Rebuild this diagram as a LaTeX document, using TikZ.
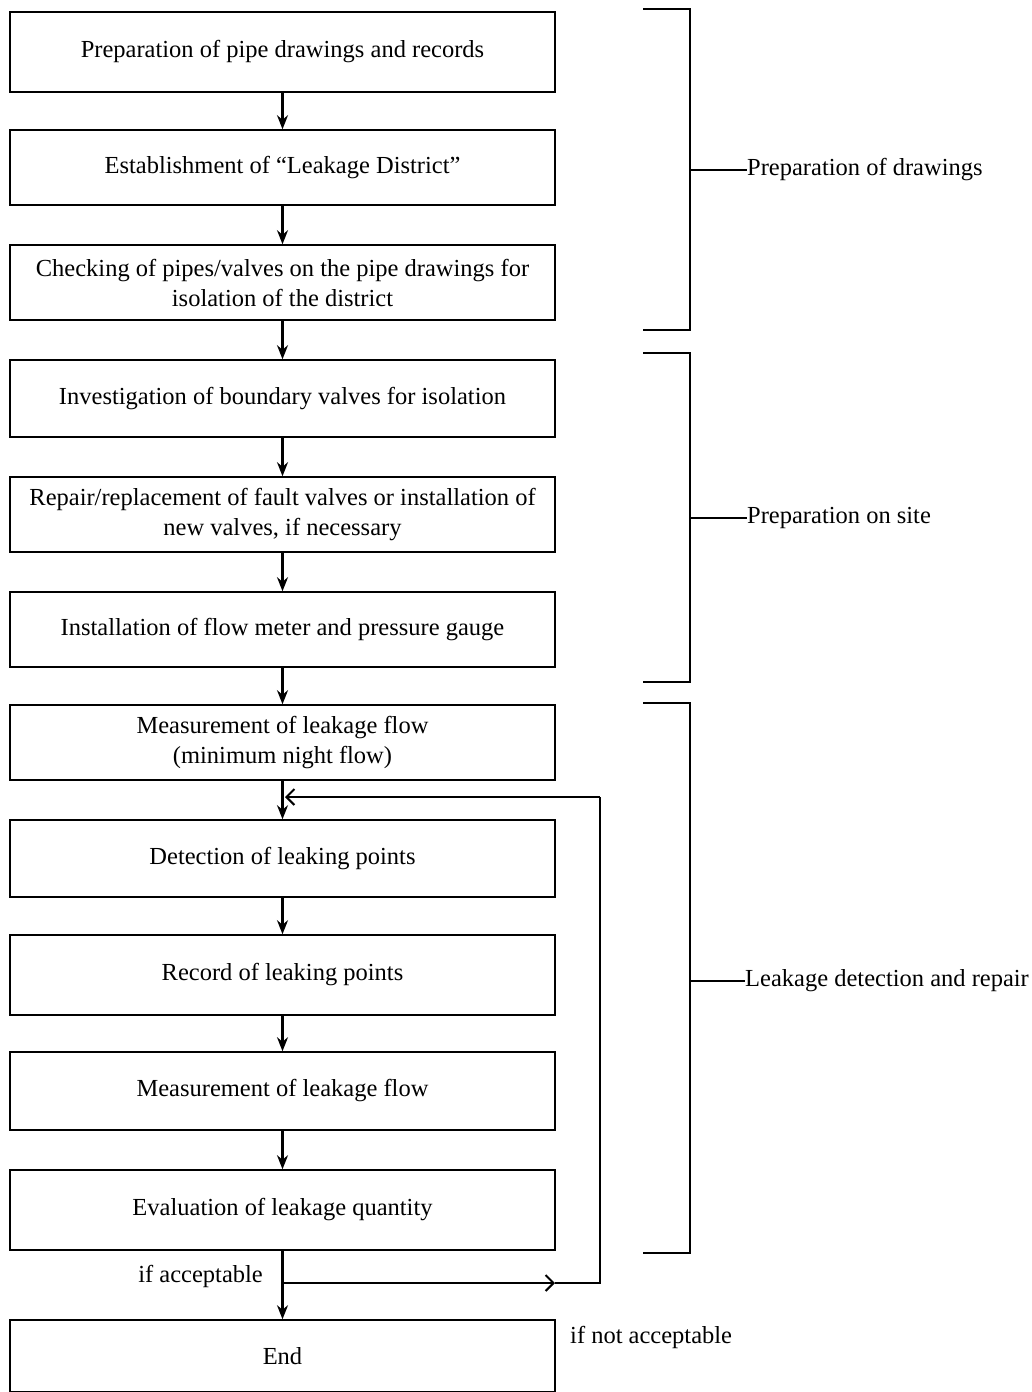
\documentclass[tikz,border=0pt]{standalone}
\usepackage{fontspec}
\setmainfont{Liberation Serif}
\usetikzlibrary{arrows.meta}
\begin{document}
\begin{tikzpicture}[x=1pt,y=-1pt,
  stepbox/.style={draw,line width=1.6pt,minimum width=545pt,align=center,font=\fontsize{24.5}{30}\selectfont,inner sep=0pt},
  flow/.style={-{Stealth[length=14pt,width=11pt]},line width=2.2pt},
  loopline/.style={line width=1.6pt},
  looparrow/.style={-{Straight Barb[length=8pt,width=16pt,line width=2pt]},line width=1.6pt},
  brack/.style={line width=1.8pt},
  tick/.style={line width=1.4pt},
  lab/.style={font=\fontsize{24.5}{30}\selectfont,anchor=west,inner sep=0pt}]
\useasboundingbox (0,0) rectangle (1032,1392);
\node[stepbox,minimum height=80pt] (b1) at (282.5,52) {Preparation of pipe drawings and records};
\node[stepbox,minimum height=75pt] (b2) at (282.5,167.5) {Establishment of ``Leakage District''};
\node[stepbox,minimum height=75pt] (b3) at (282.5,282.5) {Checking of pipes/valves on the pipe drawings for\\isolation of the district};
\node[stepbox,minimum height=77pt] (b4) at (282.5,398.5) {Investigation of boundary valves for isolation};
\node[stepbox,minimum height=75pt] (b5) at (282.5,514.5) {Repair/replacement of fault valves or installation of\\new valves, if necessary};
\node[stepbox,minimum height=75pt] (b6) at (282.5,629.5) {Installation of flow meter and pressure gauge};
\node[stepbox,minimum height=75pt] (b7) at (282.5,742.5) {Measurement of leakage flow\\(minimum night flow)};
\node[stepbox,minimum height=77pt] (b8) at (282.5,858.5) {Detection of leaking points};
\node[stepbox,minimum height=80pt] (b9) at (282.5,975) {Record of leaking points};
\node[stepbox,minimum height=78pt] (b10) at (282.5,1091) {Measurement of leakage flow};
\node[stepbox,minimum height=80pt] (b11) at (282.5,1210) {Evaluation of leakage quantity};
\node[stepbox,minimum height=72pt] (b12) at (282.5,1356) {End};

\draw[flow] (b1) -- (b2);
\draw[flow] (b2) -- (b3);
\draw[flow] (b3) -- (b4);
\draw[flow] (b4) -- (b5);
\draw[flow] (b5) -- (b6);
\draw[flow] (b6) -- (b7);
\draw[flow] (b7) -- (b8);
\draw[flow] (b8) -- (b9);
\draw[flow] (b9) -- (b10);
\draw[flow] (b10) -- (b11);
\draw[flow] (b11) -- (b12);

% loop
\coordinate (ls) at (283,1283);
\coordinate (la) at (555,1283);
\coordinate (lr) at (600,1283);
\coordinate (lt) at (600,797);
\coordinate (le) at (285,797);
\draw[looparrow] (ls) -- (la);
\draw[loopline] (la) -- (lr) -- (lt);
\draw[looparrow] (lt) -- (le);
\node[lab,anchor=east] (ifa) at (263,1276) {if acceptable};
\node[lab] (ifn) at (570,1337) {if not acceptable};

% brackets
\coordinate (p1a) at (643,9); \coordinate (p1b) at (690,9);
\coordinate (p1c) at (690,330); \coordinate (p1d) at (643,330);
\draw[brack] (p1a) -- (p1b) -- (p1c) -- (p1d);
\coordinate (p1t) at (690,170);
\node[lab] (l1) at (747,170) {Preparation of drawings};
\draw[tick] (p1t) -- (l1.west);

\coordinate (p2a) at (643,353); \coordinate (p2b) at (690,353);
\coordinate (p2c) at (690,682); \coordinate (p2d) at (643,682);
\draw[brack] (p2a) -- (p2b) -- (p2c) -- (p2d);
\coordinate (p2t) at (690,518);
\node[lab] (l2) at (747,518) {Preparation on site};
\draw[tick] (p2t) -- (l2.west);

\coordinate (p3a) at (643,703); \coordinate (p3b) at (690,703);
\coordinate (p3c) at (690,1253); \coordinate (p3d) at (643,1253);
\draw[brack] (p3a) -- (p3b) -- (p3c) -- (p3d);
\coordinate (p3t) at (690,981);
\node[lab] (l3) at (745,981) {Leakage detection and repair};
\draw[tick] (p3t) -- (l3.west);
\end{tikzpicture}
\end{document}
